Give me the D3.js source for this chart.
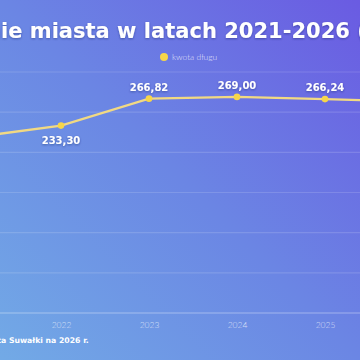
<!DOCTYPE html>
<html><head><meta charset="utf-8">
<script src="https://cdn.jsdelivr.net/npm/d3@7"></script>
<style>html,body{margin:0;padding:0;overflow:hidden;background:#6a80e6}</style>
</head><body>
<svg id="c" width="360" height="360"></svg>
<script>
const years = ["2021","2022","2023","2024","2025","2026"];
const debt = [218.7, 233.30, 266.82, 269.00, 266.24, 263.0];
const yTicks = [0, 50, 100, 150, 200, 250, 300];
const titleText = "Zadłużenie miasta w latach 2021-2026 (mln zł)";
const legendText = "kwota długu";
const sourceText = "Źródło: Uchwała budżetowa Miasta Suwałki na 2026 r.";

const svg = d3.select("#c");
const defs = svg.append("defs");
const g = defs.append("linearGradient").attr("id","bg").attr("x1","0").attr("y1","1").attr("x2","1").attr("y2","0");
g.append("stop").attr("offset","0").attr("stop-color","#72aae6");
g.append("stop").attr("offset","0.5").attr("stop-color","#6b86e4");
g.append("stop").attr("offset","1").attr("stop-color","#6a5be2");
const f = defs.append("filter").attr("id","sh").attr("x","-10%").attr("y","-30%").attr("width","120%").attr("height","160%");
f.append("feDropShadow").attr("dx",0).attr("dy",1).attr("stdDeviation",1.2).attr("flood-color","#1a2060").attr("flood-opacity",0.45);

svg.append("rect").attr("width",360).attr("height",360).attr("fill","url(#bg)");

const x = d3.scalePoint().domain(years).range([-27, 413]);
const y = d3.scaleLinear().domain([0,300]).range([313, 72]);

svg.append("g").selectAll("line").data(yTicks).join("line")
  .attr("x1",-60).attr("x2",420)
  .attr("y1",d=>y(d)).attr("y2",d=>y(d))
  .attr("stroke", d=> d===0 ? "rgba(255,255,255,0.38)" : "rgba(255,255,255,0.14)")
  .attr("stroke-width",1.2);

const xa = svg.append("g").attr("transform","translate(0,313)")
  .call(d3.axisBottom(x).tickSize(0).tickPadding(9));
xa.select(".domain").remove();
xa.selectAll("text").attr("fill","rgba(255,255,255,0.72)").attr("font-family","Lato, sans-serif")
  .attr("font-size",8.5).attr("font-weight",300);

const line = d3.line().x((d,i)=>x(years[i])).y(d=>y(d));
svg.append("path").datum(debt).attr("d",line).attr("fill","none")
  .attr("stroke","#f1d983").attr("stroke-width",2.4);
svg.append("g").selectAll("circle").data(debt).join("circle")
  .attr("cx",(d,i)=>x(years[i])).attr("cy",d=>y(d)).attr("r",3.3).attr("fill","#f6d649");

svg.append("g").selectAll("text").data(debt).join("text")
  .attr("x",(d,i)=>x(years[i]))
  .attr("y",(d,i)=> i===1 ? y(d)+18 : y(d)-8)
  .attr("text-anchor","middle").attr("fill","#fff")
  .attr("font-family","'DejaVu Sans', sans-serif").attr("font-weight",700).attr("font-size",10)
  .attr("filter","url(#sh)")
  .text(d=>d.toFixed(2).replace(".",","));

const t = svg.append("text").attr("y",38).attr("fill","#fff")
  .attr("font-family","'DejaVu Sans', sans-serif").attr("font-weight",700).attr("font-size",20)
  .attr("filter","url(#sh)").text(titleText);
const node = t.node();
const idx = titleText.indexOf("ie miasta");
const endIdx = titleText.indexOf("(")+1;
const visW = node.getSubStringLength(idx, endIdx-idx);
t.attr("font-size", 20 * 366 / visW);
const off = node.getSubStringLength(0, idx);
t.attr("x", 1 - off);

const lg = svg.append("g");
lg.append("circle").attr("cx",164).attr("cy",57).attr("r",4).attr("fill","#f6d649");
lg.append("text").attr("x",172).attr("y",60).attr("fill","rgba(255,255,255,0.8)")
  .attr("font-family","Lato, sans-serif").attr("font-weight",300).attr("font-size",8.5).text(legendText);

const s = svg.append("text").attr("y",343).attr("fill","#fff")
  .attr("font-family","'DejaVu Sans', sans-serif").attr("font-weight",700).attr("font-size",9)
  .text(sourceText);
const sn = s.node();
const sIdx = sourceText.indexOf("a Suwałki");
const sW = sn.getSubStringLength(sIdx, sourceText.length - sIdx);
s.attr("font-size", 9 * 88 / sW);
s.attr("x", 1 - sn.getSubStringLength(0, sIdx));
</script>
</body></html>
